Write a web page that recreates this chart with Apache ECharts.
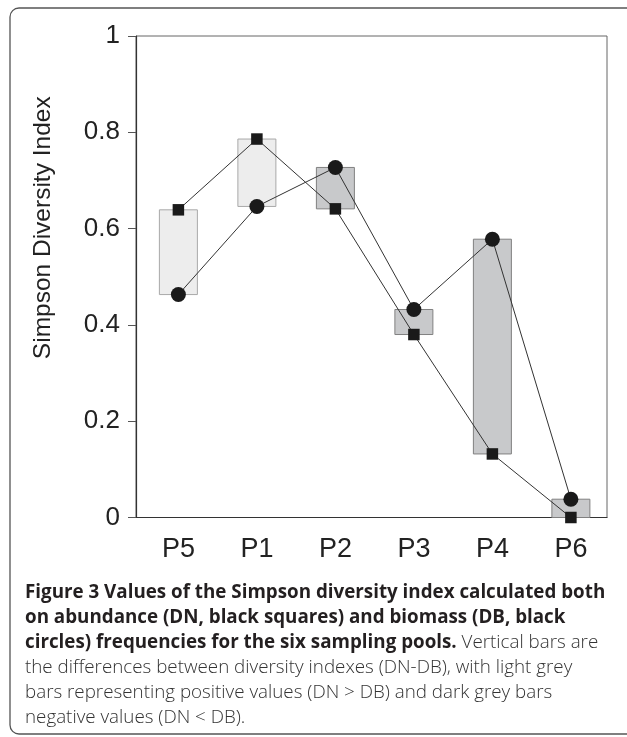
<!DOCTYPE html>
<html>
<head>
<meta charset="utf-8">
<script src="https://cdn.jsdelivr.net/npm/echarts@6/dist/echarts.min.js"></script>
<style>html,body{margin:0;padding:0;background:#fff;}#c{width:627px;height:737px;}</style>
</head>
<body>
<div id="c"></div>
<script>
// ---- data ----
var categories = ['P5', 'P1', 'P2', 'P3', 'P4', 'P6'];
var DN = [0.639, 0.786, 0.641, 0.380, 0.132, 0.000]; // abundance (squares)
var DB = [0.463, 0.646, 0.727, 0.432, 0.578, 0.038]; // biomass (circles)

// derived: floating difference bars [index, low, high]
var idx = categories.map(function (c, i) { return i; });
var posBars = idx.filter(function (i) { return DN[i] > DB[i]; })
                 .map(function (i) { return [i, DB[i], DN[i]]; });
var negBars = idx.filter(function (i) { return DN[i] < DB[i]; })
                 .map(function (i) { return [i, DN[i], DB[i]]; });
var dnPts = idx.map(function (i) { return [i, DN[i]]; });
var dbPts = idx.map(function (i) { return [i, DB[i]]; });

var BAR_W = 38;
function renderFloatBar(params, api) {
  var x = api.value(0);
  var top = api.coord([x, api.value(2)]);
  var bot = api.coord([x, api.value(1)]);
  return {
    type: 'rect',
    shape: { x: top[0] - BAR_W / 2, y: top[1], width: BAR_W, height: bot[1] - top[1] },
    style: api.style()
  };
}

var chart = echarts.init(document.getElementById('c'), null, { renderer: 'canvas' });
var option = {
  backgroundColor: '#ffffff',
  animation: false,
  grid: { left: 136, right: 20, top: 36, bottom: 219.5, show: true, borderColor: '#666', borderWidth: 1, backgroundColor: 'transparent' },
  xAxis: {
    type: 'value', min: -0.54, max: 5.46,
    splitLine: { show: false },
    axisLine: { show: true, onZero: false, lineStyle: { color: '#333', width: 1.2 } },
    axisTick: { show: false },
    axisLabel: {
      customValues: idx,
      margin: 18.5,
      fontFamily: 'Liberation Sans, Arial, sans-serif', fontSize: 27, color: '#222',
      formatter: function (v) { return categories[Math.round(v)] || ''; }
    }
  },
  yAxis: {
    type: 'value', min: 0, max: 1, interval: 0.2,
    splitLine: { show: false },
    axisLine: { show: true, onZero: false, lineStyle: { color: '#333', width: 1.2 } },
    axisTick: { show: true, length: 8, lineStyle: { color: '#555' } },
    axisLabel: {
      margin: 16,
      fontFamily: 'Liberation Sans, Arial, sans-serif', fontSize: 26, color: '#222',
      formatter: function (v) { return String(+v.toFixed(1)); }
    },
    name: 'Simpson Diversity Index',
    nameLocation: 'middle', nameRotate: 90, nameGap: 80,
    nameTextStyle: { fontFamily: 'Liberation Sans, Arial, sans-serif', fontSize: 24.5, color: '#222', padding: [0, 0, 0, 98] }
  },
  title: {
    left: 20, top: 575,
    text: '{b|Figure 3 Values of the Simpson diversity index calculated both}\n' +
          '{b|on abundance (DN, black squares) and biomass (DB, black}\n' +
          '{b|circles) frequencies for the six sampling pools.}{r| Vertical bars are}\n' +
          '{r|the differences between diversity indexes (DN-DB), with light grey}\n' +
          '{r|bars representing positive values (DN > DB) and dark grey bars}\n' +
          '{r|negative values (DN < DB).}',
    textStyle: {
      rich: {
        b: { fontFamily: 'Open Sans', fontWeight: 'bold', fontSize: 18.8, color: '#231f20', lineHeight: 25 },
        r: { fontFamily: 'Open Sans', fontWeight: 300, fontSize: 18.8, color: '#333', lineHeight: 25 }
      }
    }
  },
  graphic: [{
    type: 'rect', silent: true, z: -1,
    shape: { x: 10, y: 8, width: 700, height: 726, r: [9, 0, 0, 9] },
    style: { fill: 'none', stroke: '#555', lineWidth: 1.3 }
  }],
  series: [
    { type: 'custom', data: posBars, renderItem: renderFloatBar, clip: false, z: 2,
      encode: { x: 0, y: [1, 2] },
      itemStyle: { color: '#ededed', borderColor: '#a8a8a8', borderWidth: 1 } },
    { type: 'custom', data: negBars, renderItem: renderFloatBar, clip: false, z: 2,
      encode: { x: 0, y: [1, 2] },
      itemStyle: { color: '#c8c9cb', borderColor: '#808080', borderWidth: 1 } },
    { type: 'line', data: dbPts, symbol: 'circle', symbolSize: 15, clip: false, z: 3,
      lineStyle: { color: '#333', width: 1 }, itemStyle: { color: '#1a1a1a' } },
    { type: 'line', data: dnPts, symbol: 'rect', symbolSize: 11.5, clip: false, z: 4,
      lineStyle: { color: '#333', width: 1 }, itemStyle: { color: '#1a1a1a' } }
  ]
};
chart.setOption(option);
</script>
</body>
</html>
